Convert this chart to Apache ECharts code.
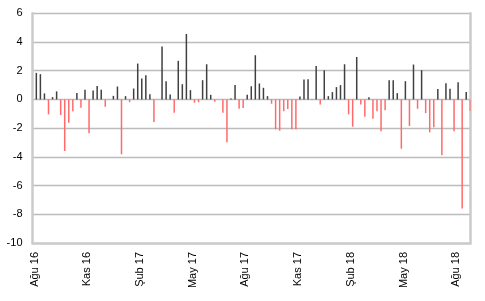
<!DOCTYPE html>
<html><head><meta charset="utf-8">
<script src="https://cdn.jsdelivr.net/npm/echarts@6/dist/echarts.min.js"></script>
<style>html,body{margin:0;padding:0;background:#fff}#c{width:485px;height:301px}</style>
</head><body><div id="c"></div>
<script>
const tickLabels = ['Ağu 16','Kas 16','Şub 17','May 17','Ağu 17','Kas 17','Şub 18','May 18','Ağu 18'];
const values = [
  1.85, 1.76, 0.42, -1.04, 0.16, 0.56, -1.09, -3.59, -1.62, -0.83,
  0.44, -0.58, 0.67, -2.36, 0.63, 0.93, 0.67, -0.51, 0, 0.25,
  0.9, -3.82, 0.23, -0.19, 0.76, 2.5, 1.46, 1.69, 0.37, -1.57,
  0, 3.68, 1.27, 0.35, -0.93, 2.69, 1.06, 4.56, 0.65, -0.23,
  -0.19, 1.34, 2.45, 0.32, -0.16, 0, -0.93, -2.99, 0.07, 1.0,
  -0.65, -0.6, 0.32, 0.92, 3.08, 1.11, 0.81, 0.23, -0.3, -2.08,
  -2.18, -0.82, -0.66, -2.08, -2.08, 0.21, 1.39, 1.4, 0.02, 2.33,
  -0.36, 2.03, 0.23, 0.51, 0.86, 1.0, 2.45, -1.04, -1.9, 2.96,
  -0.35, -1.2, 0.16, -1.34, -0.83, -2.22, -0.76, 1.34, 1.34, 0.44,
  -3.43, 1.27, -1.85, 2.43, -0.65, 2.04, -0.95, -2.29, -1.94, 0.72,
  -3.89, 1.13, 0.74, -2.22, 1.2, -7.59, 0.51, -0.81
];
const weeksPerLabel = 13;
const categories = values.map((_, i) => 'H' + (i + 1));

const frame = {show: true, onZero: false, lineStyle: {color: '#cbcbcb', width: 2.5}};
const chart = echarts.init(document.getElementById('c'), null, {renderer: 'canvas'});
chart.setOption({
  animation: false,
  backgroundColor: '#fff',
  grid: {left: 32.5, right: 14.5, top: 13.3, bottom: 58, containLabel: false},
  xAxis: {
    type: 'category', data: categories,
    axisLine: frame, axisTick: {show: false},
    axisLabel: {
      interval: weeksPerLabel - 1, rotate: 90, margin: 9,
      fontFamily: 'Liberation Sans, Arial, sans-serif', fontSize: 11, color: '#000',
      formatter: (v, i) => tickLabels[Math.round(i / weeksPerLabel)] || ''
    },
    splitLine: {show: false}
  },
  yAxis: [{
    type: 'value', min: -10, max: 6, interval: 2,
    axisLine: frame, axisTick: {show: false},
    axisLabel: {margin: 10, fontFamily: 'Liberation Sans, Arial, sans-serif', fontSize: 11, color: '#000'},
    splitLine: {lineStyle: {color: '#bcbcbc', width: 1.3}}
  }, {
    type: 'value', min: -10, max: 6, interval: 2, position: 'right',
    axisLine: frame, axisTick: {show: false}, axisLabel: {show: false},
    splitLine: {show: false}
  }],
  series: [
    {type: 'bar', name: 'offset', data: [], barWidth: 1.5, barGap: '140%', silent: true},
    {type: 'bar', name: 'values', data: values, barWidth: 1.5, barGap: '140%',
     itemStyle: {color: p => p.value >= 0 ? '#404040' : '#ff6b6b'}}
  ]
});
</script>
</body></html>
